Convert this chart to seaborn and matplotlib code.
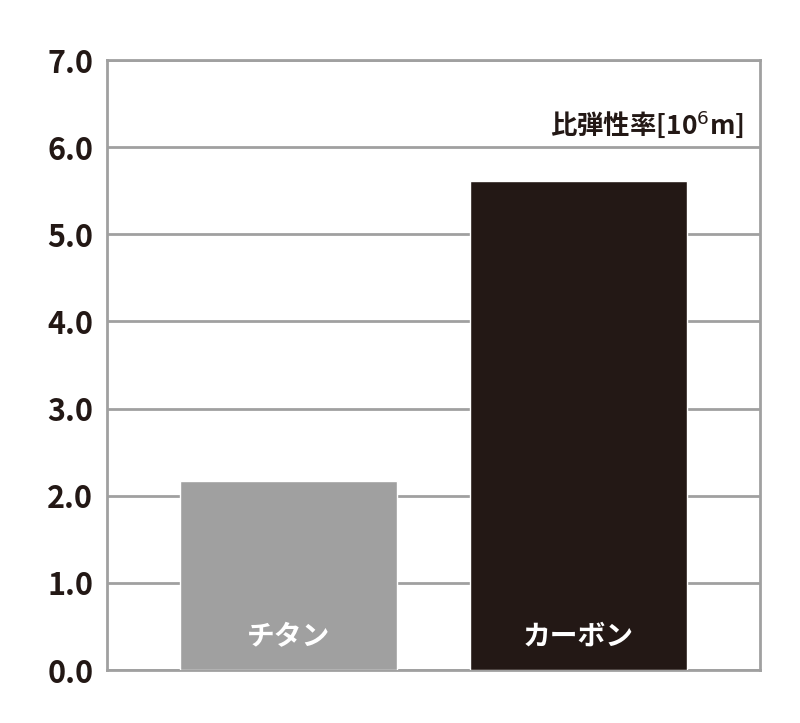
import matplotlib
matplotlib.use("Agg")
import matplotlib.pyplot as plt
import seaborn as sns
import pandas as pd

categories = ["チタン", "カーボン"]
values = [2.17, 5.61]
colors = ["#a0a0a0", "#231815"]
yticks = [0.0, 1.0, 2.0, 3.0, 4.0, 5.0, 6.0, 7.0]

sns.set_theme(style="white")
plt.rcParams['font.family'] = ['Noto Sans CJK JP', 'DejaVu Sans']

fig = plt.figure(figsize=(8, 7.23), dpi=100)
ax = fig.add_axes([0.134, 0.0733, 0.816, 0.8437])
df = pd.DataFrame({"cat": categories, "val": values})
sns.barplot(data=df, x="cat", y="val", hue="cat", palette=colors, width=0.75,
            legend=False, ax=ax, zorder=3, saturation=1)
ax.set_xlim(-0.626, 1.626)
ax.set_ylim(0, 7)
ax.set_yticks(yticks)
ax.set_yticklabels([f"{t:.1f}" for t in yticks], fontsize=22, fontweight="bold", color="#231815")
ax.set_xticks([])
ax.set_xlabel("")
ax.set_ylabel("")
ax.yaxis.grid(True, color="#a0a0a0", linewidth=2, zorder=0)
for s in ax.spines.values():
    s.set_color("#a0a0a0")
    s.set_linewidth(2)
ax.tick_params(axis="y", length=0, pad=10)
for i, c in enumerate(categories):
    ax.text(i, 0.38, c, ha="center", va="center", color="white", fontsize=20, fontweight="bold", zorder=4)
ax.text(0.975, 0.895, "比弾性率[10$^6$m]", transform=ax.transAxes, ha="right", va="center",
        fontsize=19, fontweight="bold", color="#231815")
fig.savefig("out.png", dpi=100)
